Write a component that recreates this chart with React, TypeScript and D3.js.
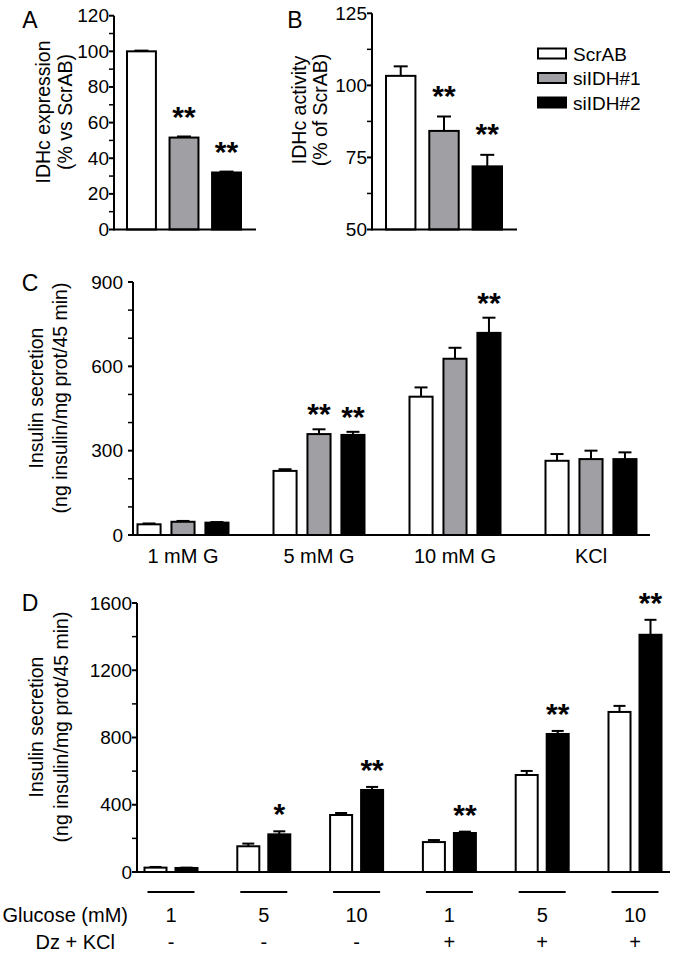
import React from 'react';
import * as d3 from 'd3';

// ---------- DATA ----------
const series = ['ScrAB', 'siIDH#1', 'siIDH#2'];
const seriesColors = ['#ffffff', '#a0a0a4', '#000000'];

// Panel A – IDHc expression (% vs ScrAB)
const expressionValues = [100, 51.6, 32];
const expressionErrors = [0.4, 0.6, 0.5];
const expressionStars = ['', '**', '**'];
const expressionTicks = [0, 20, 40, 60, 80, 100, 120];
const expressionMinor = [10, 30, 50, 70, 90, 110];

// Panel B – IDHc activity (% of ScrAB)
const activityValues = [103.3, 84.2, 71.9];
const activityErrors = [3.3, 5.0, 4.0];
const activityStars = ['', '**', '**'];
const activityTicks = [50, 75, 100, 125];
const activityMinor = [62.5, 87.5, 112.5];

// Panel C – insulin secretion per condition
const conditionsC = ['1 mM G', '5 mM G', '10 mM G', 'KCl'];
const cScrAB = [38, 228, 492, 264];
const cScrABErr = [3, 6, 33, 24];
const cSi1 = [47, 359, 627, 270];
const cSi1Err = [3, 17, 39, 30];
const cSi2 = [44, 356, 719, 270];
const cSi2Err = [2, 11, 54, 24];
const cStarsScrAB = ['', '', '', ''];
const cStarsSi1 = ['', '**', '', ''];
const cStarsSi2 = ['', '**', '**', ''];
const cTicks = [0, 300, 600, 900];
const cMinor = [100, 200, 400, 500, 700, 800];

// Panel D – insulin secretion, glucose x Dz+KCl
const dSeries = ['ScrAB', 'siIDH#2'];
const dColors = ['#ffffff', '#000000'];
const glucoseLabels = ['1', '5', '10', '1', '5', '10'];
const dzKclLabels = ['-', '-', '-', '+', '+', '+'];
const dScrAB = [26, 153, 339, 178, 577, 952];
const dScrABErr = [4, 16, 12, 12, 24, 36];
const dSi2 = [24, 224, 488, 232, 821, 1411];
const dSi2Err = [2, 18, 18, 8, 18, 89];
const dStarsSi2 = ['', '*', '**', '**', '**', '**'];
const dTicks = [0, 400, 800, 1200, 1600];
const dMinor = [200, 600, 1000, 1400];

// ---------- DRAWING ----------
const FONT = '"Liberation Sans", Arial, Helvetica, sans-serif';
const STAR_FS = 30;
const TICK_FS = 19;
const LABEL_FS = 19.5;

function YAxis({ scale, x, ticks, minor, gap }: any) {
  const [y0, y1] = scale.range();
  return (
    <g>
      <line x1={x} x2={x} y1={y1} y2={y0 + 1} stroke="#000" strokeWidth={2} />
      {minor.map((v: number) => (
        <line key={'m' + v} x1={x - 5} x2={x} y1={scale(v)} y2={scale(v)} stroke="#000" strokeWidth={1.5} />
      ))}
      {ticks.map((v: number) => (
        <g key={v}>
          <line x1={x - 5} x2={x} y1={scale(v)} y2={scale(v)} stroke="#000" strokeWidth={2} />
          <text x={x - gap} y={scale(v)} textAnchor="end" dominantBaseline="central" fontSize={TICK_FS}>
            {v}
          </text>
        </g>
      ))}
    </g>
  );
}

function Bar({ x, w, base, top, errTop, fill, cap }: any) {
  const cx = x + w / 2;
  return (
    <g>
      <line x1={cx} x2={cx} y1={top} y2={errTop} stroke="#000" strokeWidth={2} />
      <line x1={cx - cap / 2} x2={cx + cap / 2} y1={errTop} y2={errTop} stroke="#000" strokeWidth={2} />
      <rect x={x} y={top} width={w} height={base - top} fill={fill} stroke="#000" strokeWidth={2} />
    </g>
  );
}

function Stars({ x, y, text }: any) {
  if (!text) return null;
  // y = visual centre of the asterisks
  return (
    <text x={x} y={y + STAR_FS * 0.57} textAnchor="middle" fontSize={STAR_FS} fontWeight="bold">
      {text}
    </text>
  );
}

function YLabel({ x1, x2, y, l1, l2 }: any) {
  return (
    <g fontSize={LABEL_FS}>
      <text transform={`translate(${x1},${y}) rotate(-90)`} textAnchor="middle" dominantBaseline="central">{l1}</text>
      <text transform={`translate(${x2},${y}) rotate(-90)`} textAnchor="middle" dominantBaseline="central">{l2}</text>
    </g>
  );
}

function Letter({ x, y, t }: any) {
  return (
    <text x={x} y={y} textAnchor="middle" dominantBaseline="central" fontSize={23}>{t}</text>
  );
}

function SmallPanel({ axisX, axisEnd, yScale, ticks, minor, gap, values, errors, stars, barRange, starOffset }: any) {
  const xs = d3.scaleBand<string>().domain(series).range(barRange).paddingInner(0.32).paddingOuter(0);
  const base = yScale.range()[0];
  return (
    <g>
      {series.map((s, i) => (
        <Bar key={s} x={xs(s)} w={xs.bandwidth()} base={base} top={yScale(values[i])}
          errTop={yScale(values[i] + errors[i])} fill={seriesColors[i]} cap={14} />
      ))}
      {series.map((s, i) => (
        <Stars key={'s' + s} x={(xs(s) as number) + xs.bandwidth() / 2}
          y={yScale(values[i] + errors[i]) - starOffset} text={stars[i]} />
      ))}
      <line x1={axisX} x2={axisEnd} y1={base} y2={base} stroke="#000" strokeWidth={2} />
      <YAxis scale={yScale} x={axisX} ticks={ticks} minor={minor} gap={gap} />
    </g>
  );
}

export default function App() {
  // Panel A
  const yA = d3.scaleLinear().domain([0, 120]).range([229.5, 15.7]);
  // Panel B
  const yB = d3.scaleLinear().domain([50, 125]).range([229.5, 13.3]);
  // Panel C
  const yC = d3.scaleLinear().domain([0, 900]).range([535, 282]);
  const gC = d3.scaleBand<string>().domain(conditionsC).range([115, 659]);
  const sC = d3.scaleBand<string>().domain(series).range([-45.5, 45.5]).paddingInner(0.32);
  const cVals = [cScrAB, cSi1, cSi2];
  const cErrs = [cScrABErr, cSi1Err, cSi2Err];
  const cStars = [cStarsScrAB, cStarsSi1, cStarsSi2];
  // Panel D
  const yD = d3.scaleLinear().domain([0, 1600]).range([872, 603]);
  const dIdx = glucoseLabels.map((_, i) => String(i));
  const gD = d3.scaleBand<string>().domain(dIdx).range([124.6, 681.4]);
  const sD = d3.scaleBand<string>().domain(dSeries).range([-26.5, 26.5]).paddingInner(0.29);
  const dVals = [dScrAB, dSi2];
  const dErrs = [dScrABErr, dSi2Err];
  const dStars = [dSeries.map(() => ''), dStarsSi2];

  const gcC = (c: string) => (gC(c) as number) + gC.bandwidth() / 2;
  const gcD = (c: string) => (gD(c) as number) + gD.bandwidth() / 2;

  const legendRows = [54, 78.5, 103];

  return (
    <svg width={677} height={956} style={{ position: 'absolute', left: 0, top: 0, background: '#fff' }}
      fontFamily={FONT}>
      <rect x={0} y={0} width={677} height={956} fill="#fff" />

      {/* Panel A */}
      <Letter x={30} y={20} t="A" />
      <YLabel x1={43} x2={65} y={112} l1="IDHc expression" l2="(% vs ScrAB)" />
      <SmallPanel axisX={114} axisEnd={256} yScale={yA} ticks={expressionTicks} minor={expressionMinor} gap={5}
        values={expressionValues} errors={expressionErrors} stars={expressionStars} barRange={[127, 241]} starOffset={27} />

      {/* Panel B */}
      <Letter x={295} y={20} t="B" />
      <YLabel x1={299} x2={320} y={110} l1="IDHc activity" l2="(% of ScrAB)" />
      <SmallPanel axisX={372} axisEnd={517} yScale={yB} ticks={activityTicks} minor={activityMinor} gap={5}
        values={activityValues} errors={activityErrors} stars={activityStars} barRange={[386, 502]} starOffset={28} />

      {/* Legend */}
      {series.map((s, i) => (
        <g key={'lg' + s}>
          <rect x={538} y={legendRows[i] - 5.5} width={28} height={10} fill={seriesColors[i]} stroke="#000" strokeWidth={2} />
          <text x={573} y={legendRows[i]} dominantBaseline="central" fontSize={19}>{s}</text>
        </g>
      ))}

      {/* Panel C */}
      <Letter x={30} y={283} t="C" />
      <YLabel x1={36} x2={60} y={398} l1="Insulin secretion" l2="(ng insulin/mg prot/45 min)" />
      {conditionsC.map((c) =>
        series.map((s, j) => {
          const i = conditionsC.indexOf(c);
          return (
            <Bar key={c + s} x={gcC(c) + (sC(s) as number)} w={sC.bandwidth()} base={yC(0)}
              top={yC(cVals[j][i])} errTop={yC(cVals[j][i] + cErrs[j][i])} fill={seriesColors[j]} cap={13} />
          );
        })
      )}
      {conditionsC.map((c) =>
        series.map((s, j) => {
          const i = conditionsC.indexOf(c);
          return (
            <Stars key={'st' + c + s} x={gcC(c) + (sC(s) as number) + sC.bandwidth() / 2}
              y={yC(cVals[j][i] + cErrs[j][i]) - 22} text={cStars[j][i]} />
          );
        })
      )}
      <line x1={133} x2={650} y1={yC(0)} y2={yC(0)} stroke="#000" strokeWidth={2} />
      <YAxis scale={yC} x={133} ticks={cTicks} minor={cMinor} gap={10} />
      {conditionsC.map((c) => (
        <text key={'xl' + c} x={gcC(c)} y={563} textAnchor="middle" fontSize={20}>{c}</text>
      ))}

      {/* Panel D */}
      <Letter x={30} y={603} t="D" />
      <YLabel x1={36} x2={61} y={727} l1="Insulin secretion" l2="(ng insulin/mg prot/45 min)" />
      {dIdx.map((g, i) =>
        dSeries.map((s, j) => (
          <Bar key={g + s} x={gcD(g) + (sD(s) as number)} w={sD.bandwidth()} base={yD(0)}
            top={yD(dVals[j][i])} errTop={yD(dVals[j][i] + dErrs[j][i])} fill={dColors[j]} cap={12} />
        ))
      )}
      {dIdx.map((g, i) =>
        dSeries.map((s, j) => (
          <Stars key={'st' + g + s} x={gcD(g) + (sD(s) as number) + sD.bandwidth() / 2}
            y={yD(dVals[j][i] + dErrs[j][i]) - 24} text={dStars[j][i]} />
        ))
      )}
      <line x1={137} x2={670} y1={yD(0)} y2={yD(0)} stroke="#000" strokeWidth={2} />
      <YAxis scale={yD} x={137} ticks={dTicks} minor={dMinor} gap={5} />

      {dIdx.map((g, i) => (
        <g key={'dl' + g}>
          <line x1={gcD(g) - 23.5} x2={gcD(g) + 23.5} y1={892} y2={892} stroke="#000" strokeWidth={2} />
          <text x={gcD(g)} y={922} textAnchor="middle" fontSize={20}>{glucoseLabels[i]}</text>
          <text x={gcD(g)} y={949} textAnchor="middle" fontSize={20}>{dzKclLabels[i]}</text>
        </g>
      ))}
      <text x={128} y={922} textAnchor="end" fontSize={20}>Glucose (mM)</text>
      <text x={115} y={949} textAnchor="end" fontSize={20}>Dz + KCl</text>
    </svg>
  );
}
